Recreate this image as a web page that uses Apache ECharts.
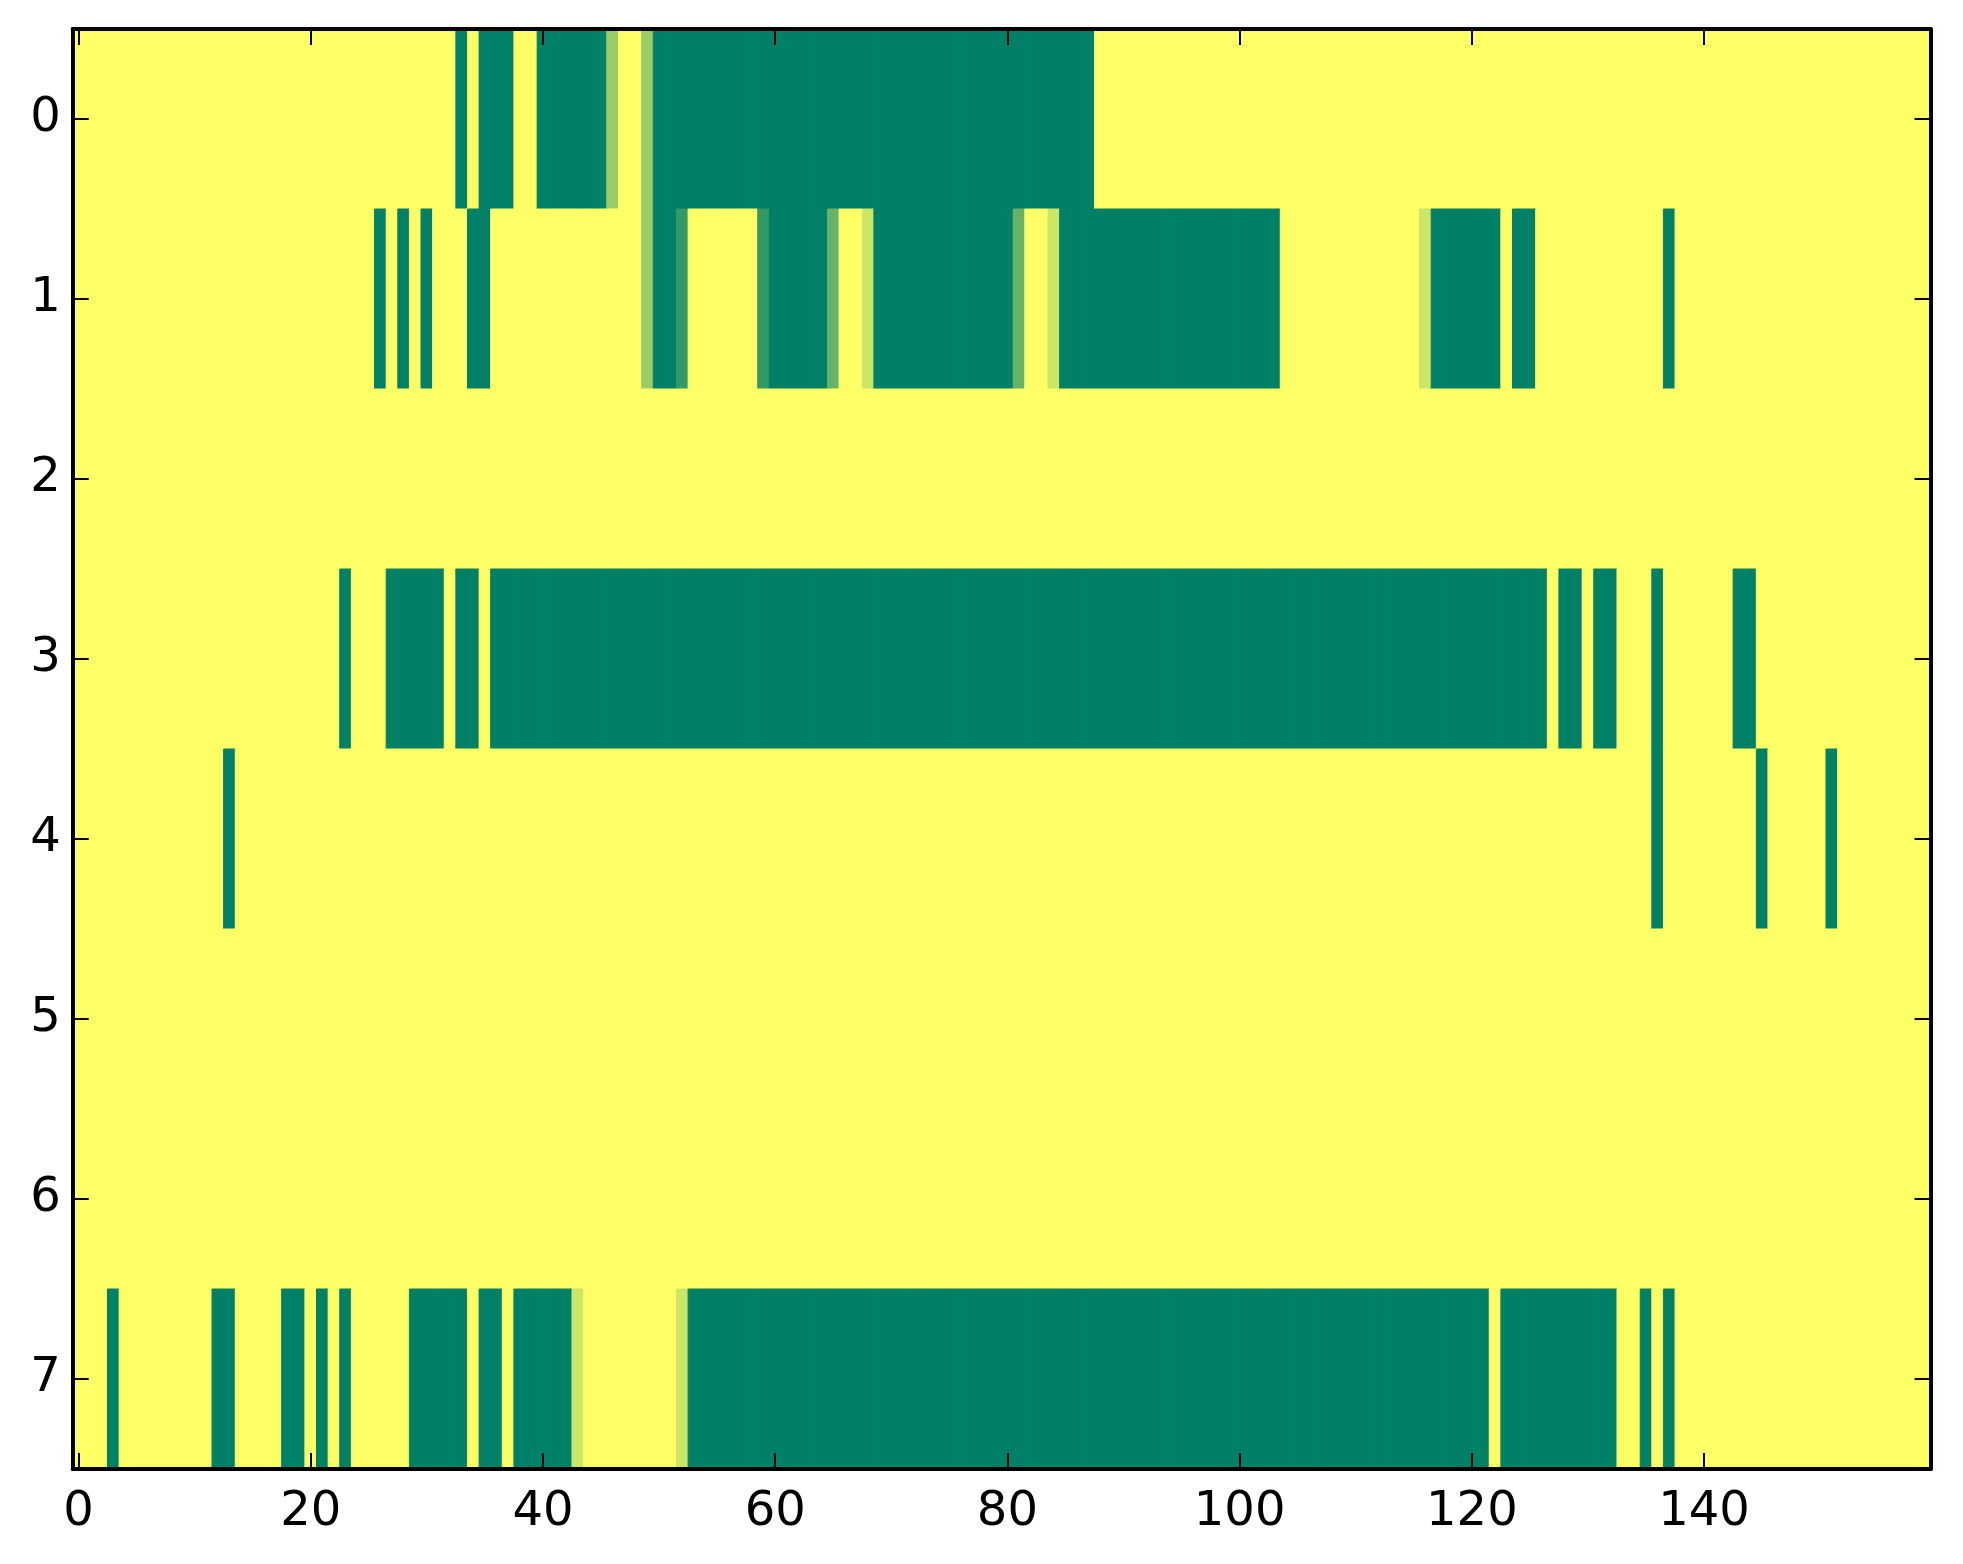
<!DOCTYPE html>
<html>
<head>
<meta charset="utf-8">
<style>
html,body{margin:0;padding:0;background:#fff;}
#chart{width:1963px;height:1564px;}
</style>
<script src="https://cdn.jsdelivr.net/npm/echarts@6/dist/echarts.min.js"></script>
</head>
<body>
<div id="chart"></div>
<script>
// row values (0 = green, 1 = yellow), 160 columns each
var row0 = [
1,1,1,1,1,1,1,1,1,1,1,1,1,1,1,1,1,1,1,1,
1,1,1,1,1,1,1,1,1,1,1,1,1,0,1,0,0,0,1,1,
0,0,0,0,0,0,0.6,1,1,0.6,0,0,0,0,0,0,0,0,0,0,
0,0,0,0,0,0,0,0,0,0,0,0,0,0,0,0,0,0,0,0,
0,0,0,0,0,0,0,0,1,1,1,1,1,1,1,1,1,1,1,1,
1,1,1,1,1,1,1,1,1,1,1,1,1,1,1,1,1,1,1,1,
1,1,1,1,1,1,1,1,1,1,1,1,1,1,1,1,1,1,1,1,
1,1,1,1,1,1,1,1,1,1,1,1,1,1,1,1,1,1,1,1];
var row1 = [
1,1,1,1,1,1,1,1,1,1,1,1,1,1,1,1,1,1,1,1,
1,1,1,1,1,1,0,1,0,1,0,1,1,1,0,0,1,1,1,1,
1,1,1,1,1,1,1,1,1,0.6,0,0,0.2,1,1,1,1,1,1,0.2,
0,0,0,0,0,0.4,1,1,0.8,0,0,0,0,0,0,0,0,0,0,0,
0,0.4,1,1,0.8,0,0,0,0,0,0,0,0,0,0,0,0,0,0,0,
0,0,0,0,1,1,1,1,1,1,1,1,1,1,1,1,0.8,0,0,0,
0,0,0,1,0,0,1,1,1,1,1,1,1,1,1,1,1,0,1,1,
1,1,1,1,1,1,1,1,1,1,1,1,1,1,1,1,1,1,1,1];
var row2 = [
1,1,1,1,1,1,1,1,1,1,1,1,1,1,1,1,1,1,1,1,
1,1,1,1,1,1,1,1,1,1,1,1,1,1,1,1,1,1,1,1,
1,1,1,1,1,1,1,1,1,1,1,1,1,1,1,1,1,1,1,1,
1,1,1,1,1,1,1,1,1,1,1,1,1,1,1,1,1,1,1,1,
1,1,1,1,1,1,1,1,1,1,1,1,1,1,1,1,1,1,1,1,
1,1,1,1,1,1,1,1,1,1,1,1,1,1,1,1,1,1,1,1,
1,1,1,1,1,1,1,1,1,1,1,1,1,1,1,1,1,1,1,1,
1,1,1,1,1,1,1,1,1,1,1,1,1,1,1,1,1,1,1,1];
var row3 = [
1,1,1,1,1,1,1,1,1,1,1,1,1,1,1,1,1,1,1,1,
1,1,1,0,1,1,1,0,0,0,0,0,1,0,0,1,0,0,0,0,
0,0,0,0,0,0,0,0,0,0,0,0,0,0,0,0,0,0,0,0,
0,0,0,0,0,0,0,0,0,0,0,0,0,0,0,0,0,0,0,0,
0,0,0,0,0,0,0,0,0,0,0,0,0,0,0,0,0,0,0,0,
0,0,0,0,0,0,0,0,0,0,0,0,0,0,0,0,0,0,0,0,
0,0,0,0,0,0,0,1,0,0,1,0,0,1,1,1,0,1,1,1,
1,1,1,0,0,1,1,1,1,1,1,1,1,1,1,1,1,1,1,1];
var row4 = [
1,1,1,1,1,1,1,1,1,1,1,1,1,0,1,1,1,1,1,1,
1,1,1,1,1,1,1,1,1,1,1,1,1,1,1,1,1,1,1,1,
1,1,1,1,1,1,1,1,1,1,1,1,1,1,1,1,1,1,1,1,
1,1,1,1,1,1,1,1,1,1,1,1,1,1,1,1,1,1,1,1,
1,1,1,1,1,1,1,1,1,1,1,1,1,1,1,1,1,1,1,1,
1,1,1,1,1,1,1,1,1,1,1,1,1,1,1,1,1,1,1,1,
1,1,1,1,1,1,1,1,1,1,1,1,1,1,1,1,0,1,1,1,
1,1,1,1,1,0,1,1,1,1,1,0,1,1,1,1,1,1,1,1];
var row5 = [
1,1,1,1,1,1,1,1,1,1,1,1,1,1,1,1,1,1,1,1,
1,1,1,1,1,1,1,1,1,1,1,1,1,1,1,1,1,1,1,1,
1,1,1,1,1,1,1,1,1,1,1,1,1,1,1,1,1,1,1,1,
1,1,1,1,1,1,1,1,1,1,1,1,1,1,1,1,1,1,1,1,
1,1,1,1,1,1,1,1,1,1,1,1,1,1,1,1,1,1,1,1,
1,1,1,1,1,1,1,1,1,1,1,1,1,1,1,1,1,1,1,1,
1,1,1,1,1,1,1,1,1,1,1,1,1,1,1,1,1,1,1,1,
1,1,1,1,1,1,1,1,1,1,1,1,1,1,1,1,1,1,1,1];
var row6 = [
1,1,1,1,1,1,1,1,1,1,1,1,1,1,1,1,1,1,1,1,
1,1,1,1,1,1,1,1,1,1,1,1,1,1,1,1,1,1,1,1,
1,1,1,1,1,1,1,1,1,1,1,1,1,1,1,1,1,1,1,1,
1,1,1,1,1,1,1,1,1,1,1,1,1,1,1,1,1,1,1,1,
1,1,1,1,1,1,1,1,1,1,1,1,1,1,1,1,1,1,1,1,
1,1,1,1,1,1,1,1,1,1,1,1,1,1,1,1,1,1,1,1,
1,1,1,1,1,1,1,1,1,1,1,1,1,1,1,1,1,1,1,1,
1,1,1,1,1,1,1,1,1,1,1,1,1,1,1,1,1,1,1,1];
var row7 = [
1,1,1,0,1,1,1,1,1,1,1,1,0,0,1,1,1,1,0,0,
1,0,1,0,1,1,1,1,1,0,0,0,0,0,1,0,0,1,0,0,
0,0,0,0.8,1,1,1,1,1,1,1,1,0.8,0,0,0,0,0,0,0,
0,0,0,0,0,0,0,0,0,0,0,0,0,0,0,0,0,0,0,0,
0,0,0,0,0,0,0,0,0,0,0,0,0,0,0,0,0,0,0,0,
0,0,0,0,0,0,0,0,0,0,0,0,0,0,0,0,0,0,0,0,
0,0,1,0,0,0,0,0,0,0,0,0,0,1,1,0,1,0,1,1,
1,1,1,1,1,1,1,1,1,1,1,1,1,1,1,1,1,1,1,1];

var rows = [row0, row1, row2, row3, row4, row5, row6, row7];
var yLabels = ['0','1','2','3','4','5','6','7'];
var xTickLabels = ['0','20','40','60','80','100','120','140'];
var xTickStep = 20;

var xCats = [];
for (var i = 0; i < row0.length; i++) xCats.push(String(i));

var data = [];
rows.forEach(function (r, y) {
  r.forEach(function (v, x) { data.push([x, y, v]); });
});

var FONT = 'DejaVu Sans';
function tickFn(i) { return i % xTickStep === 0; }

var axisLine = { show: true, lineStyle: { color: '#000', width: 4 } };
var tickStyle = { color: '#000', width: 2 };

var option = {
  backgroundColor: '#fff',
  animation: false,
  grid: { left: 72.7, right: 32.5, top: 29, bottom: 95, containLabel: false },
  xAxis: [
    {
      type: 'category', data: xCats, position: 'bottom', z: 10,
      axisLine: axisLine,
      axisTick: { show: true, inside: true, length: 16, alignWithLabel: true, interval: tickFn, lineStyle: tickStyle },
      axisLabel: { interval: tickFn, fontSize: 48, color: '#000', fontFamily: FONT, margin: 20,
        formatter: function (v, i) { return xTickLabels[i / xTickStep]; } },
      splitLine: { show: false }
    },
    {
      type: 'category', data: xCats, position: 'top', z: 10,
      axisLine: axisLine,
      axisTick: { show: true, inside: true, length: 16, alignWithLabel: true, interval: tickFn, lineStyle: tickStyle },
      axisLabel: { show: false },
      splitLine: { show: false }
    }
  ],
  yAxis: [
    {
      type: 'category', data: yLabels, inverse: true, position: 'left', z: 10,
      axisLine: axisLine,
      axisTick: { show: true, inside: true, length: 16, alignWithLabel: true, interval: 0, lineStyle: tickStyle },
      axisLabel: { fontSize: 48, color: '#000', fontFamily: FONT, margin: 12 },
      splitLine: { show: false }
    },
    {
      type: 'category', data: yLabels, inverse: true, position: 'right', z: 10,
      axisLine: axisLine,
      axisTick: { show: true, inside: true, length: 16, alignWithLabel: true, interval: 0, lineStyle: tickStyle },
      axisLabel: { show: false },
      splitLine: { show: false }
    }
  ],
  visualMap: {
    type: 'continuous', min: 0, max: 1, show: false, dimension: 2, seriesIndex: 0,
    inRange: { color: ['#008066', '#ffff66'] }
  },
  series: [{
    type: 'custom', xAxisIndex: 0, yAxisIndex: 0, data: data, z: 1,
    encode: { x: 0, y: 1 },
    renderItem: function (params, api) {
      var p = api.coord([api.value(0), api.value(1)]);
      var s = api.size([1, 1]);
      var c = api.visual('color');
      return {
        type: 'rect',
        shape: { x: p[0] - s[0] / 2, y: p[1] - s[1] / 2, width: s[0], height: s[1] },
        style: { fill: c, stroke: c, lineWidth: 1 }
      };
    },
    silent: true
  }]
};

var chart = echarts.init(document.getElementById('chart'), null, { renderer: 'canvas' });
chart.setOption(option);
</script>
</body>
</html>
